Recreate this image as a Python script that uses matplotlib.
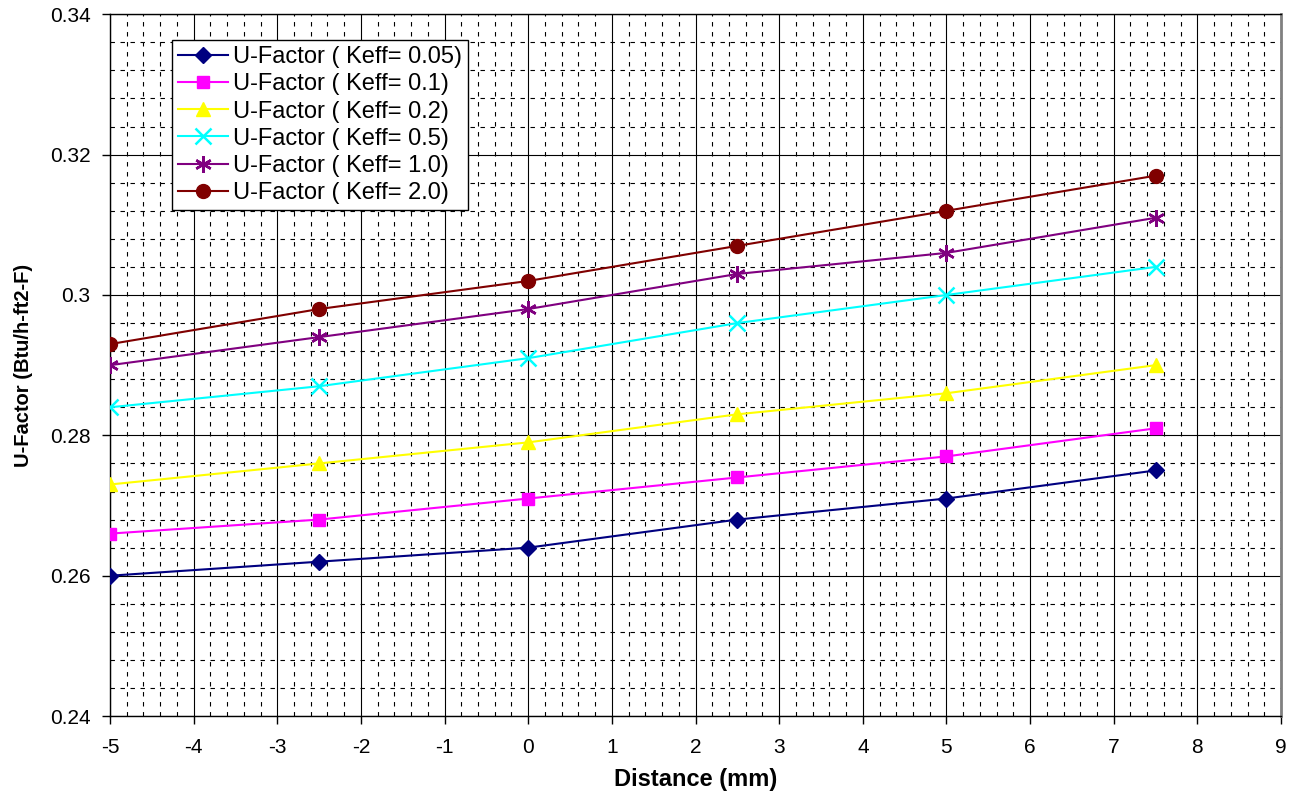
import matplotlib.pyplot as plt
import numpy as np
from matplotlib.ticker import MultipleLocator

plt.rcParams['font.family'] = ['Liberation Sans', 'DejaVu Sans']
plt.rcParams['axes.unicode_minus'] = False

distance = [-5, -2.5, 0, 2.5, 5, 7.5]
u_keff_005 = [0.260, 0.262, 0.264, 0.268, 0.271, 0.275]
u_keff_01 = [0.266, 0.268, 0.271, 0.274, 0.277, 0.281]
u_keff_02 = [0.273, 0.276, 0.279, 0.283, 0.286, 0.290]
u_keff_05 = [0.284, 0.287, 0.291, 0.296, 0.300, 0.304]
u_keff_10 = [0.290, 0.294, 0.298, 0.303, 0.306, 0.311]
u_keff_20 = [0.293, 0.298, 0.302, 0.307, 0.312, 0.317]

labels = ['U-Factor ( Keff= 0.05)', 'U-Factor ( Keff= 0.1)', 'U-Factor ( Keff= 0.2)',
          'U-Factor ( Keff= 0.5)', 'U-Factor ( Keff= 1.0)', 'U-Factor ( Keff= 2.0)']
series = [u_keff_005, u_keff_01, u_keff_02, u_keff_05, u_keff_10, u_keff_20]
colors = ['#000080', '#FF00FF', '#FFFF00', '#00FFFF', '#800080', '#800000']
markers = ['D', 's', '^', 'x', (6, 2, 0), 'o']
msizes = [8, 9, 10, 11, 12, 10]

fig = plt.figure(figsize=(12.94, 7.93), dpi=100)
ax = fig.add_axes([0.085, 0.097, 0.905, 0.885])

for y, lab, c, m, ms in zip(series, labels, colors, markers, msizes):
    ax.plot(distance, y, color=c, marker=m, markersize=ms, lw=1.5,
            markeredgewidth=1.8 if m in ('x', (6, 2, 0)) else 1,
            markeredgecolor=c, label=lab, zorder=3)

ax.set_xlim(-5, 9)
ax.set_ylim(0.24, 0.34)
ax.xaxis.set_major_locator(MultipleLocator(1))
ax.xaxis.set_minor_locator(MultipleLocator(0.2))
ax.yaxis.set_minor_locator(MultipleLocator(0.004))
ax.set_yticks(np.arange(0.24, 0.3401, 0.02))
ax.set_yticklabels(['0.24', '0.26', '0.28', '0.3', '0.32', '0.34'])

ax.grid(which='major', color='black', lw=0.8, ls='-')
ax.grid(which='minor', color='black', lw=0.8, ls=(0, (4, 5)))
ax.set_axisbelow(True)
ax.tick_params(which='major', length=6, width=1, labelsize=15, direction='out')
ax.tick_params(which='minor', length=0)
ax.tick_params(axis='x', pad=10)
ax.tick_params(axis='y', pad=8)

for s in ax.spines.values():
    s.set_color('black')
    s.set_linewidth(1)
ax.spines['right'].set_color('#808080')
ax.spines['right'].set_linewidth(2)

ax.set_xlabel('Distance (mm)', fontsize=17, fontweight='bold', labelpad=8)
ax.set_ylabel('U-Factor (Btu/h-ft2-F)', fontsize=14.5, fontweight='bold', labelpad=12)

leg = ax.legend(loc='upper left', bbox_to_anchor=(0.053, 0.963), fontsize=17,
                frameon=True, fancybox=False, edgecolor='black', framealpha=1,
                borderpad=0.25, labelspacing=0.22, handlelength=2.1, handletextpad=0.25,
                borderaxespad=0)
leg.get_frame().set_linewidth(1)

fig.savefig('out.png', dpi=100)
